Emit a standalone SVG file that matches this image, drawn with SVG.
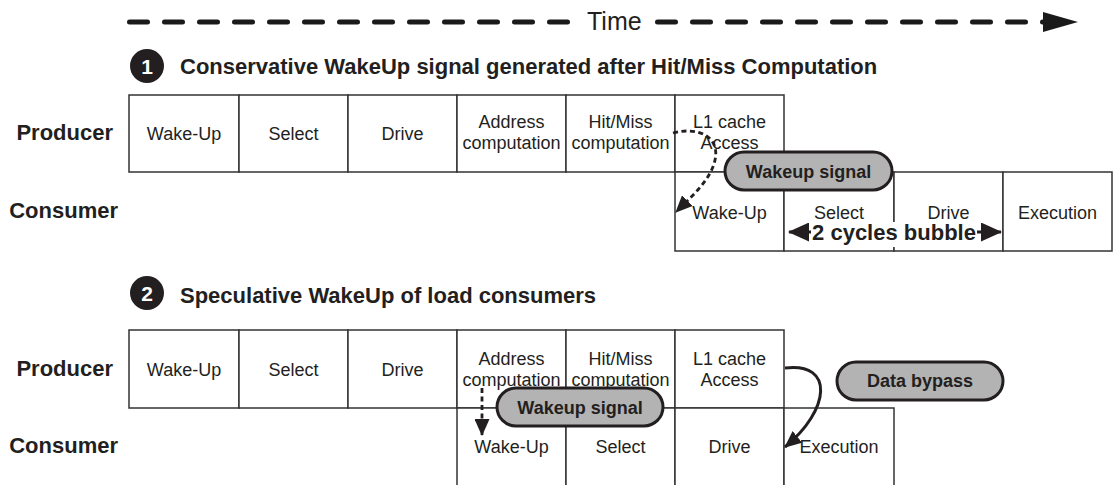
<svg xmlns="http://www.w3.org/2000/svg" width="1113" height="485" viewBox="0 0 1113 485">
<style>
text{font-family:"Liberation Sans",Arial,sans-serif;fill:#231f20}
.lbl{font-size:22px;font-weight:bold;text-anchor:end}
.hd{font-size:22px;font-weight:bold}
.num{font-size:21px;font-weight:bold;fill:#fff;text-anchor:middle}
.cell{fill:#fff;stroke:#333;stroke-width:1.5}
.ct{font-size:18px;text-anchor:middle}
.pill{fill:#b3b3b3;stroke:#231f20;stroke-width:3}
.pt{font-size:18px;font-weight:bold;text-anchor:middle}
.dash{fill:none;stroke:#231f20;stroke-width:2.8;stroke-dasharray:5 3.5}
.solid{fill:none;stroke:#231f20;stroke-width:3}
.time{fill:none;stroke:#1a1a1a;stroke-width:5;stroke-linecap:round;stroke-dasharray:18 17}
</style>
<defs>
<marker id="ah" markerUnits="userSpaceOnUse" markerWidth="17" markerHeight="15" refX="16" refY="7.5" orient="auto"><path d="M0,0 L17,7.5 L0,15 z" fill="#231f20"/></marker>
<marker id="ah2" markerUnits="userSpaceOnUse" markerWidth="21" markerHeight="19" refX="20" refY="9.5" orient="auto-start-reverse"><path d="M0,0 L21,9.5 L0,19 z" fill="#231f20"/></marker>
</defs>

<g id="time-axis">
<line class="time" x1="129.5" y1="22" x2="570" y2="22"/>
<line class="time" x1="657.5" y1="22" x2="1045" y2="22"/>
<polygon points="1043,12 1078,22 1043,32" fill="#1a1a1a"/>
<text x="587" y="30" style="font-size:25px">Time</text>
</g>

<g id="heading1">
<circle cx="147" cy="66" r="17" fill="#231f20"/>
<text class="num" x="147" y="73.5">1</text>
<text class="hd" x="180" y="74">Conservative WakeUp signal generated after Hit/Miss Computation</text>
</g>

<g id="row1-labels">
<text class="lbl" x="113" y="140">Producer</text>
<text class="lbl" x="118" y="218">Consumer</text>
</g>

<g id="producer1">
<rect class="cell" x="129" y="95" width="110" height="77"/>
<rect class="cell" x="239" y="95" width="109" height="77"/>
<rect class="cell" x="348" y="95" width="109" height="77"/>
<rect class="cell" x="457" y="95" width="109" height="77"/>
<rect class="cell" x="566" y="95" width="109" height="77"/>
<rect class="cell" x="675" y="95" width="109" height="77"/>
<text class="ct" x="184" y="140">Wake-Up</text>
<text class="ct" x="293.5" y="140">Select</text>
<text class="ct" x="402.5" y="140">Drive</text>
<text class="ct" x="511.5" y="128">Address</text>
<text class="ct" x="511.5" y="149">computation</text>
<text class="ct" x="620.5" y="128">Hit/Miss</text>
<text class="ct" x="620.5" y="149">computation</text>
<text class="ct" x="729.5" y="128">L1 cache</text>
<text class="ct" x="729.5" y="149">Access</text>
</g>

<g id="consumer1">
<rect class="cell" x="675" y="172" width="109" height="79"/>
<rect class="cell" x="784" y="172" width="110" height="79"/>
<rect class="cell" x="894" y="172" width="109" height="79"/>
<rect class="cell" x="1003" y="172" width="109" height="79"/>
<text class="ct" x="729.5" y="219">Wake-Up</text>
<text class="ct" x="839" y="219">Select</text>
<text class="ct" x="948.5" y="219">Drive</text>
<text class="ct" x="1057.5" y="219">Execution</text>
</g>

<g id="heading2">
<circle cx="147" cy="293" r="17" fill="#231f20"/>
<text class="num" x="147" y="300.5">2</text>
<text class="hd" x="180" y="303">Speculative WakeUp of load consumers</text>
</g>

<g id="row2-labels">
<text class="lbl" x="113" y="376">Producer</text>
<text class="lbl" x="118" y="453">Consumer</text>
</g>

<g id="producer2">
<rect class="cell" x="129" y="330" width="110" height="78"/>
<rect class="cell" x="239" y="330" width="109" height="78"/>
<rect class="cell" x="348" y="330" width="109" height="78"/>
<rect class="cell" x="457" y="330" width="109" height="78"/>
<rect class="cell" x="566" y="330" width="109" height="78"/>
<rect class="cell" x="675" y="330" width="109" height="78"/>
<text class="ct" x="184" y="376">Wake-Up</text>
<text class="ct" x="293.5" y="376">Select</text>
<text class="ct" x="402.5" y="376">Drive</text>
<text class="ct" x="511.5" y="365">Address</text>
<text class="ct" x="511.5" y="386">computation</text>
<text class="ct" x="620.5" y="365">Hit/Miss</text>
<text class="ct" x="620.5" y="386">computation</text>
<text class="ct" x="729.5" y="365">L1 cache</text>
<text class="ct" x="729.5" y="386">Access</text>
</g>

<g id="consumer2">
<rect class="cell" x="457" y="408" width="109" height="90"/>
<rect class="cell" x="566" y="408" width="109" height="90"/>
<rect class="cell" x="675" y="408" width="109" height="90"/>
<rect class="cell" x="784" y="408" width="110" height="90"/>
<text class="ct" x="511.5" y="453">Wake-Up</text>
<text class="ct" x="620.5" y="453">Select</text>
<text class="ct" x="729.5" y="453">Drive</text>
<text class="ct" x="839" y="453">Execution</text>
</g>

<g id="connectors">
<path class="dash" d="M673,133 C700,126 720,138 715,160 C711,180 690,198 676,212" marker-end="url(#ah)"/>
<path class="dash" d="M482,388 L482,435" marker-end="url(#ah)"/>
<path class="solid" d="M785,368 C835,362 830,410 785,447" marker-end="url(#ah)"/>
<line x1="789" y1="232" x2="1001" y2="232" stroke="#231f20" stroke-width="3" marker-start="url(#ah2)" marker-end="url(#ah2)"/>
</g>

<g id="bubble-label">
<rect x="811" y="222" width="166" height="25" fill="#fff"/>
<text x="894" y="240" style="font-size:22px;font-weight:bold;text-anchor:middle">2 cycles bubble</text>
</g>

<g id="wakeup-signal-1">
<rect class="pill" x="725" y="152" width="167" height="38" rx="19"/>
<text class="pt" x="808.5" y="177.5">Wakeup signal</text>
</g>

<g id="wakeup-signal-2">
<rect class="pill" x="497" y="388" width="166" height="38" rx="19"/>
<text class="pt" x="580" y="413.5">Wakeup signal</text>
</g>

<g id="data-bypass">
<rect class="pill" x="837" y="362" width="166" height="38" rx="19"/>
<text class="pt" x="920" y="387">Data bypass</text>
</g>
</svg>
